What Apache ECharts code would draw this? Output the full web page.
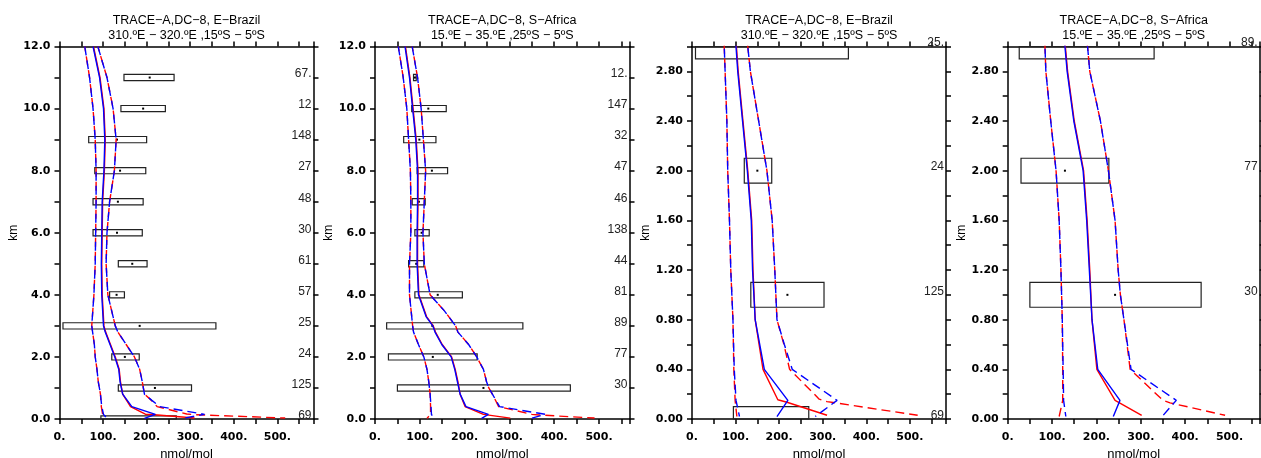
<!DOCTYPE html>
<html><head><meta charset="utf-8">
<script src="https://cdn.jsdelivr.net/npm/echarts@6/dist/echarts.min.js"></script>
<style>html,body{margin:0;padding:0;background:#fff}#c{width:1261px;height:458px}</style>
</head><body><div id="c"></div><script>
// ---------- data: E-Brazil ----------
const brTitle = ['TRACE\u2212A,DC\u22128, E\u2212Brazil', '310.\u00baE \u2212 320.\u00baE ,15\u00baS \u2212 5\u00baS'];
const brBoxAlt = [11, 10, 9, 8, 7, 6, 5, 4, 3, 2, 1, 0];
const brBoxLo  = [148, 141, 67, 81, 77, 77, 135, 115, 8, 120, 135, 95];
const brBoxHi  = [263, 243, 200, 198, 192, 190, 201, 149, 359, 183, 303, 268];
const brBoxMid = [207, 192, 132, 139, 134, 132, 167, 131, 184, 150, 219, 181];
const brCount  = [67, 12, 148, 27, 48, 30, 61, 57, 25, 24, 125, 69];
const brBlueMed = [[77,12],[92,11],[101,10],[104,9],[102,8],[98,7],[97,6],[96,5],[97,4],[101,3],[105,2.8],[116,2.4],[127,2.0],[136,1.6],[139,1.2],[145,0.8],[166,0.4],[220,0.15],[195,0.02]];
const brRedMed  = [[78,12],[93,11],[102,10],[105,9],[103,8],[99,7],[98,6],[97,5],[98,4],[102,3],[106,2.8],[117,2.4],[128,2.0],[137,1.6],[140,1.2],[145,0.8],[163,0.4],[197,0.155],[218,0.135],[310,0.03]];
const brBlueLo  = [[58,12],[69,11],[77,10],[82,9],[84,8],[84,7],[83,6],[82,5],[79,4],[74,3],[76,2.8],[80,2.4],[82,2.0],[86,1.6],[89,1.2],[94,0.8],[97,0.4],[101,0.15],[109,0.02]];
const brRedLo   = [[58,12],[69,11],[77,10],[82,9],[84,8],[84,7],[83,6],[82,5],[79,4],[74,3],[76,2.8],[80,2.4],[82,2.0],[86,1.6],[89,1.2],[94,0.8],[96,0.4],[99,0.15],[103,0.02]];
const brBlueHi  = [[88,12],[109,11],[123,10],[130,9],[126,8],[115,7],[109,6],[107,5],[111,4],[128,3],[134,2.8],[153,2.4],[172,2.0],[184,1.6],[190,1.2],[195,0.8],[212,0.6],[230,0.4],[333,0.15],[283,0.02]];
const brRedHi   = [[88,12],[109,11],[123,10],[130,9],[126,8],[115,7],[109,6],[107,5],[111,4],[128,3],[134,2.8],[153,2.4],[172,2.0],[184,1.6],[190,1.2],[195,0.8],[211,0.6],[224,0.4],[292,0.16],[310,0.14],[518,0.03]];

// ---------- data: S-Africa ----------
const afTitle = ['TRACE\u2212A,DC\u22128, S\u2212Africa', '15.\u00baE \u2212 35.\u00baE ,25\u00baS \u2212 5\u00baS'];
const afBoxAlt = [11, 10, 9, 8, 7, 6, 5, 4, 3, 2, 1];
const afBoxLo  = [86, 82, 64, 94, 83, 89, 75, 89, 26, 30, 50];
const afBoxHi  = [92, 159, 136, 162, 112, 121, 109, 195, 330, 228, 436];
const afBoxMid = [89, 119, 99, 127, 98, 104, 92, 140, 128, 129, 242];
const afCount  = [12, 147, 32, 47, 46, 138, 44, 81, 89, 77, 30];
const afBlueMed = [[67,12],[77,11],[84,10],[91,9],[95,8],[95,7],[94,6],[94,5],[97,4],[114,3.3],[129,3.0],[134,2.8],[149,2.4],[170,2.0],[178,1.6],[184,1.2],[190,0.8],[203,0.4],[253,0.15],[238,0.02]];
const afRedMed  = [[68,12],[78,11],[85,10],[92,9],[96,8],[96,7],[95,6],[95,5],[98,4],[115,3.3],[130,3.0],[135,2.8],[150,2.4],[171,2.0],[179,1.6],[185,1.2],[190,0.8],[201,0.4],[242,0.15],[302,0.03]];
const afBlueLo  = [[52,12],[63,11],[71,10],[75,9],[79,8],[80,7],[80,6],[77,5],[77,4],[84,3.0],[86,2.8],[97,2.4],[109,2.0],[116,1.6],[120,1.2],[123,0.8],[125,0.4],[126,0.15],[131,0.02]];
const afRedLo   = [[52,12],[63,11],[71,10],[75,9],[79,8],[80,7],[80,6],[77,5],[77,4],[84,3.0],[86,2.8],[97,2.4],[109,2.0],[116,1.6],[120,1.2],[123,0.8],[124,0.4],[124,0.15],[116,0.02]];
const afBlueHi  = [[83,12],[95,11],[103,10],[108,9],[113,8],[110,7],[107,6],[110,5],[123,4],[154,3.5],[180,3.0],[185,2.8],[209,2.4],[227,2.0],[242,1.6],[249,1.2],[254,1.0],[262,0.8],[278,0.4],[380,0.15],[348,0.02]];
const afRedHi   = [[83,12],[95,11],[103,10],[108,9],[113,8],[110,7],[107,6],[110,5],[123,4],[154,3.5],[180,3.0],[185,2.8],[209,2.4],[227,2.0],[242,1.6],[249,1.2],[254,1.0],[262,0.8],[276,0.4],[350,0.15],[366,0.13],[490,0.03]];

const regions = {
  br: {title: brTitle, alt: brBoxAlt, lo: brBoxLo, hi: brBoxHi, mid: brBoxMid, count: brCount,
       blueMed: brBlueMed, redMed: brRedMed, blueLo: brBlueLo, redLo: brRedLo, blueHi: brBlueHi, redHi: brRedHi},
  af: {title: afTitle, alt: afBoxAlt, lo: afBoxLo, hi: afBoxHi, mid: afBoxMid, count: afCount,
       blueMed: afBlueMed, redMed: afRedMed, blueLo: afBlueLo, redLo: afRedLo, blueHi: afBlueHi, redHi: afRedHi}
};

// ---------- layout ----------
const TOP = 46.5, HEIGHT = 372.5;
const panels = [
  {reg: 'br', left: 59.5,  width: 254,   ymax: 12, yint: 1,   xmax: 583},
  {reg: 'af', left: 375,   width: 254.5, ymax: 12, yint: 1,   xmax: 568},
  {reg: 'br', left: 692,   width: 254,   ymax: 3,  yint: 0.2, xmax: 583},
  {reg: 'af', left: 1007.7,width: 252,   ymax: 3,  yint: 0.2, xmax: 568}
];

const LABEL_FONT = {fontFamily: 'DejaVu Sans', fontWeight: 'bold', fontSize: 11, color: '#000'};
const axLine = {show: true, onZero: false, lineStyle: {color: '#000', width: 1.5}};
const axTick = {show: true, inside: false, length: 5, lineStyle: {color: '#000', width: 1.5}};

const grid = [], xAxis = [], yAxis = [], series = [];

panels.forEach((p, i) => {
  const R = regions[p.reg];
  grid.push({left: p.left, top: TOP, width: p.width, height: HEIGHT, containLabel: false, outerBoundsMode: 'none'});
  const xCommon = {type: 'value', gridIndex: i, min: 0, max: p.xmax, interval: 50,
                   axisLine: axLine, axisTick: axTick, splitLine: {show: false}};
  xAxis.push(Object.assign({}, xCommon, {
    position: 'bottom',
    axisLabel: Object.assign({margin: 13, formatter: v => (Math.round(v) % 100 === 0 ? Math.round(v) + '.' : '')}, LABEL_FONT),
    name: 'nmol/mol', nameLocation: 'middle', nameGap: 25,
    nameTextStyle: {fontFamily: 'Liberation Sans', fontSize: 13, color: '#000'}
  }));
  xAxis.push(Object.assign({}, xCommon, {
    position: 'top', axisLabel: {show: false},
    name: R.title.join('\n'), nameLocation: 'middle', nameGap: 3,
    nameTextStyle: {fontFamily: 'Liberation Sans', fontSize: 12.5, lineHeight: 15, color: '#000'}
  }));
  const small = p.ymax <= 3;
  const yCommon = {type: 'value', gridIndex: i, min: 0, max: p.ymax, interval: p.yint,
                   axisLine: axLine, axisTick: axTick, splitLine: {show: false}};
  yAxis.push(Object.assign({}, yCommon, {
    position: 'left',
    axisLabel: Object.assign({margin: 9, formatter: v => {
      if (small) return Math.round(v * 10) % 4 === 0 ? v.toFixed(2) : '';
      return Math.round(v) % 2 === 0 ? v.toFixed(1) : '';
    }}, LABEL_FONT),
    name: 'km', nameLocation: 'middle', nameGap: 39,
    nameTextStyle: {fontFamily: 'Liberation Sans', fontSize: 12, color: '#000'}
  }));
  yAxis.push(Object.assign({}, yCommon, {position: 'right', axisLabel: {show: false}}));

  const ax = {xAxisIndex: 2 * i, yAxisIndex: 2 * i};
  // boxes
  const boxData = R.alt.map((a, k) => [R.lo[k], R.hi[k], a, R.mid[k]]);
  series.push(Object.assign({
    type: 'custom', z: 3, silent: true,
    encode: {x: [0, 1], y: 2},
    renderItem: (params, api) => {
      const lo = api.value(0), hi = api.value(1), a = api.value(2), m = api.value(3);
      const yb = Math.max(0, a - 0.1), yt = a + 0.1;
      const p0 = api.coord([lo, yt]), p1 = api.coord([hi, yb]);
      const cs = params.coordSys;
      const r = echarts.graphic.clipRectByRect(
        {x: p0[0], y: p0[1], width: p1[0] - p0[0], height: p1[1] - p0[1]},
        {x: cs.x, y: cs.y, width: cs.width, height: cs.height});
      if (!r) return null;
      const children = [{type: 'rect', shape: r, style: {fill: 'none', stroke: '#222', lineWidth: 1.2}}];
      const d = api.coord([m, a]);
      if (d[1] > cs.y + 1 && d[1] < cs.y + cs.height - 1) {
        children.push({type: 'rect', shape: {x: d[0] - 1, y: d[1] - 1, width: 2, height: 2}, style: {fill: '#000'}});
      }
      return {type: 'group', children};
    },
    data: boxData
  }, ax));
  // counts
  const visAlts = R.alt.filter(a => a <= p.ymax + 1e-9);
  const topAlt = Math.max.apply(null, visAlts);
  const cntData = R.alt.map((a, k) => [p.xmax, a, R.count[k]]);
  series.push(Object.assign({
    type: 'custom', z: 4, silent: true, clip: false,
    encode: {x: 0, y: 1},
    renderItem: (params, api) => {
      const a = api.value(1);
      if (a > p.ymax + 1e-9) return null;
      const pt = api.coord([api.value(0), a]);
      const txt = String(api.value(2)) + (Math.abs(a - topAlt) < 1e-9 ? '.' : '');
      return {type: 'text', x: pt[0] - 2, y: pt[1] + 2.5,
              style: {text: txt, align: 'right', verticalAlign: 'bottom',
                      font: '12px "Liberation Sans"', fill: '#222'}};
    },
    data: cntData
  }, ax));
  // profile lines
  const mk = (data, color, dashed, z, off) => Object.assign({
    type: 'line', data, symbol: 'none', clip: true, silent: true, z,
    lineStyle: {color, width: 1.4, type: dashed ? [9, 5] : 'solid', dashOffset: off || 0}
  }, ax);
  series.push(mk(R.redLo, '#ff0000', true, 5, 4));
  series.push(mk(R.redHi, '#ff0000', true, 5, 4));
  series.push(mk(R.redMed, '#ff0000', false, 5));
  series.push(mk(R.blueLo, '#0000ff', true, 6, 0));
  series.push(mk(R.blueHi, '#0000ff', true, 6, 0));
  series.push(mk(R.blueMed, '#0000ff', false, 6));
});

const chart = echarts.init(document.getElementById('c'), null, {renderer: 'canvas'});
chart.setOption({animation: false, backgroundColor: '#fff', grid, xAxis, yAxis, series});
</script></body></html>
